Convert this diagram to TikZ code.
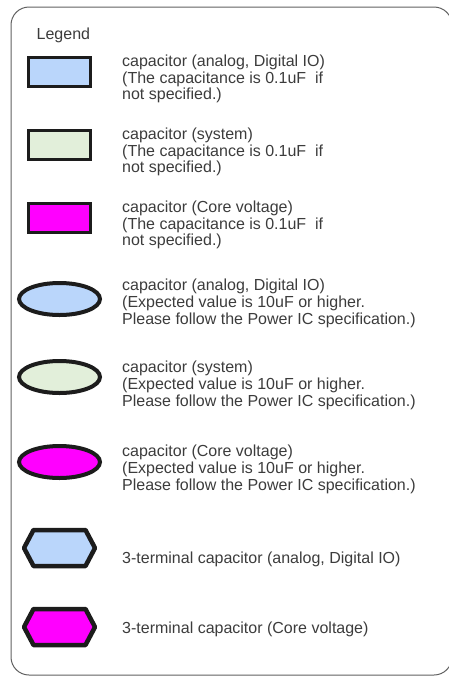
\documentclass[tikz,border=0pt]{standalone}
\usepackage{fontspec}
\setmainfont{Liberation Sans}
\definecolor{capblue}{HTML}{BAD6FB}
\definecolor{capgreen}{HTML}{E2EFDA}
\definecolor{capcore}{HTML}{FF00FF}
\definecolor{capline}{HTML}{1C1C1C}
\definecolor{legtxt}{HTML}{3C3C3C}

\newcommand{\TxtX}{122}
\newcommand{\SymX}{59.5}
\newcommand{\HexW}{35.5}
\newcommand{\HexF}{26}
\newcommand{\HexH}{18}

\begin{document}
\begin{tikzpicture}[
  x = 1pt, y = -1pt,
  frame/.style={draw=black!62,line width=1pt,rounded corners=18pt},
  rectcap/.style={draw=capline,line width=3pt},
  ellcap/.style={draw=capline,line width=4pt},
  hexcap/.style={draw=capline,line width=4.5pt,line join=round},
  legtext/.style={anchor=base west,align=left,inner sep=0pt,text=legtxt,font=\fontsize{16}{16.5}\selectfont},
  legtextb/.style={legtext,font=\fontsize{16}{17}\selectfont}
  ]

	\useasboundingbox (0,0) rectangle (449,678);
	\clip (0,0) rectangle (449,678);

	%draw the legend frame
	\draw[frame] (11,7) rectangle (452,675);
	\node[legtext] (title) at (36.5,39.5) {Legend};

	%draw the small capacitors
	\draw[rectcap, fill=capblue]  (28.5,57.5) rectangle (90.5,86.5);
	\draw[rectcap, fill=capgreen] (28.5,130) rectangle (90.5,159);
	\draw[rectcap, fill=capcore]  (28.5,203) rectangle (90.5,232);

	% base of a multi-line node = last line
	\node[legtext] (txtsmallio) at (\TxtX,99.5) {capacitor (analog, Digital IO)\\(The capacitance is 0.1uF\ \ if\\not specified.)};
	\node[legtext] (txtsmallsys) at (\TxtX,172.5) {capacitor (system)\\(The capacitance is 0.1uF\ \ if\\not specified.)};
	\node[legtext] (txtsmallcore) at (\TxtX,245.5) {capacitor (Core voltage)\\(The capacitance is 0.1uF\ \ if\\not specified.)};

	%draw the bulk capacitors
	\draw[ellcap, fill=capblue]  (\SymX,299) ellipse (40.5 and 16);
	\draw[ellcap, fill=capgreen] (\SymX,377) ellipse (40.5 and 16);
	\draw[ellcap, fill=capcore]  (\SymX,462) ellipse (40.5 and 16);

	\node[legtextb] (txtbulkio) at (\TxtX,324) {capacitor (analog, Digital IO)\\(Expected value is 10uF or higher.\\Please follow the Power IC specification.)};
	\node[legtextb] (txtbulksys) at (\TxtX,406) {capacitor (system)\\(Expected value is 10uF or higher.\\Please follow the Power IC specification.)};
	\node[legtextb] (txtbulkcore) at (\TxtX,490) {capacitor (Core voltage)\\(Expected value is 10uF or higher.\\Please follow the Power IC specification.)};

	%draw the 3-terminal capacitors
	\foreach \yy/\col in {548/capblue,627/capcore}
	{
		\draw[hexcap, fill=\col] (\SymX-\HexW,\yy) -- (\SymX-\HexF,\yy-\HexH) -- (\SymX+\HexF,\yy-\HexH)
			-- (\SymX+\HexW,\yy) -- (\SymX+\HexF,\yy+\HexH) -- (\SymX-\HexF,\yy+\HexH) -- cycle;
	}

	\node[legtext] (txtthreeio) at (\TxtX,563) {3-terminal capacitor (analog, Digital IO)};
	\node[legtext] (txtthreecore) at (\TxtX,633) {3-terminal capacitor (Core voltage)};

\end{tikzpicture}
\end{document}
